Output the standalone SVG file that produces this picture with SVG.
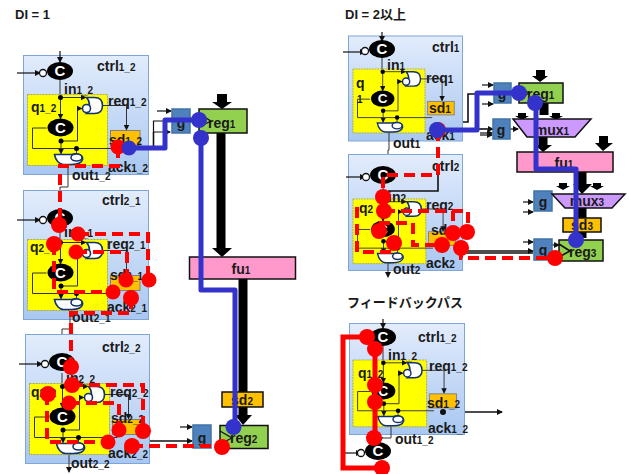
<svg xmlns="http://www.w3.org/2000/svg" xmlns:xlink="http://www.w3.org/1999/xlink" width="629" height="474" viewBox="0 0 629 474">
<style>
text{font-family:"Liberation Sans","Noto Sans CJK JP",sans-serif;font-size:14px;font-weight:bold;fill:#1a1a1a}
.s{font-size:10px}
.t{font-size:13px}
.m{text-anchor:middle}
.box{fill:url(#bg);stroke:#7fa6d8;stroke-width:1}
.y{fill:#ffff00;stroke:#8a8a50;stroke-width:.7;stroke-dasharray:2 1}
.sd{fill:#ffc000;stroke:#7f7f7f;stroke-width:1}
.sdb{fill:#ffc000;stroke:#111;stroke-width:1.5}
.reg{fill:#92d050;stroke:#111;stroke-width:1.5}
.fu{fill:#ff99cc;stroke:#111;stroke-width:1.5}
.mux{fill:#cc99ff;stroke:#111;stroke-width:1.5}
.g{fill:#4f81bd;stroke:#3f73a8;stroke-width:1.5}
.w{fill:none;stroke:#333;stroke-width:1}
.k{fill:none;stroke:#111;stroke-width:1.2}
.kk{fill:none;stroke:#111;stroke-width:1.6}
.bus{fill:none;stroke:#000;stroke-width:9}
.gate{fill:#fff;stroke:#14336e;stroke-width:1.6}
.blue{fill:none;stroke:#3333cc;stroke-width:5;stroke-linejoin:round}
.bd{fill:#3333cc}
.rd{fill:none;stroke:#ff0000;stroke-width:4;stroke-dasharray:11 6}
.rs{fill:none;stroke:#ff0000;stroke-width:5}
.rc{fill:#ff0000}
.ctext{font-size:15px;fill:#fff;text-anchor:middle}
</style>
<defs>
<linearGradient id="bg" x1="0" y1="0" x2="0" y2="1"><stop offset="0" stop-color="#e2ecfc"/><stop offset="1" stop-color="#a9c7f1"/></linearGradient>
<marker id="a" markerWidth="6" markerHeight="6" refX="5" refY="3" orient="auto" markerUnits="userSpaceOnUse"><path d="M0,0L6,3L0,6Z" fill="#111"/></marker>
<g id="core">
<rect class="y" x="0" y="0" width="80" height="71"/>
<rect class="sd" x="83" y="36" width="29.500" height="15"/>
<path class="w" d="M33,3V24" marker-end="url(#a)"/>
<path class="w" d="M33,3H58" marker-end="url(#a)"/>
<path class="w" d="M33.500,46.500H50V14H54" marker-end="url(#a)"/>
<path class="w" d="M33.500,46.500V59" marker-end="url(#a)"/>
<path class="w" d="M19,33.500H5V54H88"/>
<path class="w" d="M49,54V62"/>
<path class="w" d="M74,11H99V35" marker-end="url(#a)"/>
<path class="gate" d="M59,3H67C73,3 75,7 75,11C75,16 72,19 67,19H59C63,15 63,7 59,3Z"/>
<circle class="gate" cx="59" cy="14" r="4"/>
<ellipse cx="33" cy="33" rx="13" ry="9"/>
<text class="ctext" x="33" y="38">C</text>
<circle cx="33" cy="3" r="2.500"/><circle cx="33.500" cy="46.500" r="2.500"/><circle cx="49" cy="54" r="2.500"/>
<path class="gate" d="M27,60H44C50,58 56,61 55,65C54,69 48,70 44,70H36C32,70 28,66 27,60Z"/>
<ellipse class="gate" cx="49" cy="63" rx="5.500" ry="3.500"/>
<path class="w" d="M41,70V71"/>
</g>
<g id="topc">
<ellipse cx="0" cy="0" rx="13" ry="9"/>
<text class="ctext" x="0" y="5">C</text>
<circle cx="-17" cy="2" r="3.500" fill="#fff" stroke="#111" stroke-width="1.300"/>
</g>
</defs>

<g id="titles">
<text class="t" x="15" y="19">DI = 1</text>
<text class="t" x="345" y="19">DI = 2以上</text>
<text class="t" x="347" y="307">フィードバックパス</text>
</g>

<g id="connectors">
<path class="bus" d="M221,133V252"/>
<path d="M217,94H227V102H232L222,109L212,102H217Z"/>
<path d="M212,248H232L222,257Z"/>
<path class="bus" d="M243,279V418"/>
<path d="M235,415H252L243,425Z"/>
<path class="k" d="M157,111H171" marker-end="url(#a)"/>
<path class="k" d="M165,121H153.500V132H170" marker-end="url(#a)"/>
<path class="kk" d="M153.500,132V148H165"/>
<path class="k" d="M180,427H192" marker-end="url(#a)"/>
<path class="kk" d="M132,441H192" marker-end="url(#a)"/>
<path d="M536,70H545V76H548L540,82L532,76H536Z"/>
<path class="bus" d="M544,103V115"/>
<path d="M518,113H526V116H529L522,120L515,116H518Z"/>
<path d="M552,113H560V116H563L556,120L549,116H552Z"/>
<path class="bus" d="M543,137V146"/>
<path d="M535,145H552L543,152Z"/>
<path d="M599,136H608V143H613L603,151L595,143H599Z"/>
<path class="bus" d="M582,172V186"/>
<path d="M573,184H592L582,194Z"/>
<path d="M559,183H567V186H570L563,190L556,186H559Z"/>
<path d="M593,183H601V186H604L597,190L590,186H593Z"/>
<path class="bus" d="M582,208V220"/>
<path class="bus" d="M582,232V238"/>
<path class="k" d="M482,85H493" marker-end="url(#a)"/>
<path class="k" d="M482,104H493" marker-end="url(#a)"/>
<path class="kk" d="M437,122H468V94H494"/>
<path class="kk" d="M477,129H493" marker-end="url(#a)"/>
<path class="k" d="M480,133H492" marker-end="url(#a)"/>
<path class="k" d="M480,135H492" marker-end="url(#a)"/>
<path class="k" d="M510,129H518" marker-end="url(#a)"/>
<path class="k" d="M523,202H533" marker-end="url(#a)"/>
<path class="k" d="M523,212H533" marker-end="url(#a)"/>
<path class="k" d="M523,242H533" marker-end="url(#a)"/>
<path class="kk" d="M436,251H533" marker-end="url(#a)"/>
<path class="kk" d="M463,253H533"/>
<path class="k" d="M552,245H559" marker-end="url(#a)"/>
<path class="kk" d="M443,412H502" marker-end="url(#a)"/>
</g>

<g id="ctrl1_2">
<rect class="box" x="23.500" y="55.500" width="125" height="119"/>
<path class="k" d="M60,51V62" marker-end="url(#a)"/><path class="k" d="M17,73H40" marker-end="url(#a)"/>
<path class="w" d="M60,80V95"/>
<use xlink:href="#topc" href="#topc" x="60" y="71"/>
<use xlink:href="#core" href="#core" x="27.500" y="94.500"/>
<text x="97" y="71">ctrl<tspan class="s">1_2</tspan></text>
<text x="64" y="94">in<tspan class="s">1_2</tspan></text>
<text x="31" y="112">q<tspan class="s">1_2</tspan></text>
<text x="108" y="106">req<tspan class="s">1_2</tspan></text>
<text x="109" y="145">sd<tspan class="s">1_2</tspan></text>
<text x="108" y="172">ack<tspan class="s">1_2</tspan></text>
<text x="72" y="180">out<tspan class="s">1_2</tspan></text>
<path class="w" d="M68,165V187H60V207" marker-end="url(#a)"/>
</g>

<g id="ctrl2_1">
<rect class="box" x="23.500" y="190.500" width="125" height="129"/>
<path class="k" d="M17,220H40" marker-end="url(#a)"/>
<path class="w" d="M60,229V240"/>
<use xlink:href="#topc" href="#topc" x="60" y="218"/>
<use xlink:href="#core" href="#core" x="27.500" y="239.500"/>
<text x="102" y="205">ctrl<tspan class="s">2_1</tspan></text>
<text x="64" y="237">in<tspan class="s">2_1</tspan></text>
<text x="30" y="252">q<tspan class="s">2_1</tspan></text>
<text x="107" y="249">req<tspan class="s">2_1</tspan></text>
<text x="110" y="280">sd<tspan class="s">2_1</tspan></text>
<text x="107" y="312">ack<tspan class="s">2_1</tspan></text>
<text x="72" y="322">out<tspan class="s">2_1</tspan></text>
<path class="w" d="M70,311V329H62V352" marker-end="url(#a)"/>
</g>

<g id="ctrl2_2">
<rect class="box" x="25.500" y="334.500" width="124" height="129"/>
<path class="k" d="M19,364H42" marker-end="url(#a)"/>
<path class="w" d="M62,373V384"/>
<use xlink:href="#topc" href="#topc" x="62" y="362"/>
<use xlink:href="#core" href="#core" x="29.500" y="383.500"/>
<text x="102" y="352">ctrl<tspan class="s">2_2</tspan></text>
<text x="66" y="383">in<tspan class="s">2_2</tspan></text>
<text x="31" y="397">q<tspan class="s">2_2</tspan></text>
<text x="110" y="397">req<tspan class="s">2_2</tspan></text>
<text x="111" y="423">sd<tspan class="s">2_2</tspan></text>
<text x="108" y="458">ack<tspan class="s">2_2</tspan></text>
<text x="71" y="468">out<tspan class="s">2_2</tspan></text>
<path class="w" d="M69,455V472" marker-end="url(#a)"/>
</g>

<g id="ctrl1">
<rect class="box" x="348.500" y="36" width="114" height="105"/>
<path class="k" d="M382,32V41" marker-end="url(#a)"/><path class="k" d="M343,52H365" marker-end="url(#a)"/>
<path class="w" d="M382,58V70"/>
<use xlink:href="#topc" href="#topc" x="382" y="49"/>
<use xlink:href="#core" href="#core" transform="translate(353,69) scale(.9)"/>
<text x="432" y="52">ctrl<tspan class="s">1</tspan></text>
<text x="387" y="70">in<tspan class="s">1</tspan></text>
<text x="356" y="88">q</text>
<text class="s" x="357" y="103">1</text>
<text x="426" y="83">req<tspan class="s">1</tspan></text>
<text x="429" y="113">sd<tspan class="s">1</tspan></text>
<text x="426" y="140">ack<tspan class="s">1</tspan></text>
<text x="393" y="148">out<tspan class="s">1</tspan></text>
<path class="w" d="M389,133V150H388V157H387V163" marker-end="url(#a)"/>
</g>

<g id="ctrl2">
<rect class="box" x="348.500" y="154.500" width="114" height="116"/>
<path class="k" d="M346,177H365" marker-end="url(#a)"/>
<path class="w" d="M383,184V199"/>
<path class="kk" d="M438,175V191H388"/>
<use xlink:href="#topc" href="#topc" x="383" y="175"/>
<use xlink:href="#core" href="#core" transform="translate(353,199) scale(.91)"/>
<text x="432" y="171">ctrl<tspan class="s">2</tspan></text>
<text x="388" y="202">in<tspan class="s">2</tspan></text>
<text x="359" y="213">q<tspan class="s">2</tspan></text>
<text x="426" y="210">req<tspan class="s">2</tspan></text>
<text x="431" y="235">sd<tspan class="s">2</tspan></text>
<text x="426" y="268">ack<tspan class="s">2</tspan></text>
<text x="393" y="274">out<tspan class="s">2</tspan></text>
<path class="w" d="M388,262V277" marker-end="url(#a)"/>
</g>

<g id="ctrl1_2_fb">
<rect class="box" x="349.500" y="323.500" width="115" height="111"/>
<path class="k" d="M383,319V328" marker-end="url(#a)"/>
<path class="w" d="M383,346V361"/>
<use xlink:href="#topc" href="#topc" x="383" y="337"/>
<use xlink:href="#core" href="#core" transform="translate(353,360) scale(.92,.94)"/>
<text x="418" y="342">ctrl<tspan class="s">1_2</tspan></text>
<text x="388" y="360">in<tspan class="s">1_2</tspan></text>
<text x="358" y="378">q<tspan class="s">1_2</tspan></text>
<text x="429" y="371">req<tspan class="s">1_2</tspan></text>
<text x="427" y="408">sd<tspan class="s">1_2</tspan></text>
<text x="428" y="433">ack<tspan class="s">1_2</tspan></text>
<text x="395" y="444">out<tspan class="s">1_2</tspan></text>
<path class="w" d="M391,427V438H380V442" marker-end="url(#a)"/>
</g>
<g id="ctrl_fb_next">
<path class="k" d="M343,453H361" marker-end="url(#a)"/>
<use xlink:href="#topc" href="#topc" x="378" y="451"/>
</g>
<circle cx="443" cy="412" r="3" fill="#111"/>

<g id="g1"><rect class="g" x="172" y="109" width="18" height="24"/><text class="m" x="181" y="128">g</text></g>
<g id="reg1"><rect class="reg" x="199" y="109" width="48" height="24"/><path class="k" d="M199,114L211,121L199,127"/><text x="208" y="128">reg<tspan class="s">1</tspan></text></g>
<g id="fu1"><rect class="fu" x="189.500" y="257" width="106" height="22"/><text class="m" x="241" y="274">fu<tspan class="s">1</tspan></text></g>
<g id="sd2"><rect class="sdb" x="222" y="392" width="41" height="15"/><text class="m" x="242" y="405">sd<tspan class="s">2</tspan></text></g>
<g id="g2"><rect class="g" x="193" y="425" width="18" height="23"/><text class="m" x="202" y="443">g</text></g>
<g id="reg2"><rect class="reg" x="220" y="425.500" width="48" height="23"/><path class="k" d="M220,431L232,438L220,444"/><text x="230" y="443">reg<tspan class="s">2</tspan></text></g>

<g id="g3"><rect class="g" x="494" y="83" width="17" height="20"/><text class="m" x="502" y="99">g</text></g>
<g id="r_reg1"><rect class="reg" x="519" y="83" width="44" height="20"/><path class="k" d="M519,87L529,93L519,99"/><text x="527" y="99">reg<tspan class="s">1</tspan></text></g>
<g id="g4"><rect class="g" x="493" y="119" width="17" height="20"/><text class="m" x="501" y="135">g</text></g>
<g id="mux1"><path class="mux" d="M513,119H591L575,137H527Z"/><text class="m" x="552" y="135">mux<tspan class="s">1</tspan></text></g>
<g id="r_fu1"><rect class="fu" x="517" y="152" width="96" height="20"/><text class="m" x="564" y="168">fu<tspan class="s">1</tspan></text></g>
<g id="g5"><rect class="g" x="534" y="191" width="18" height="20"/><text class="m" x="543" y="207">g</text></g>
<g id="mux3"><path class="mux" d="M552,194H625L612,208H565Z"/><text class="m" x="587" y="206">mux<tspan class="s">3</tspan></text></g>
<g id="sd3"><rect class="sdb" x="563" y="218" width="38" height="14"/><text class="m" x="582" y="230">sd<tspan class="s">3</tspan></text></g>
<g id="g6"><rect class="g" x="534" y="239" width="18" height="21"/><text class="m" x="543" y="255">g</text></g>
<g id="reg3"><rect class="reg" x="559" y="240" width="44" height="21"/><path class="kk" d="M559,244L570,251L559,257"/><text x="569" y="257">reg<tspan class="s">3</tspan></text></g>

<g id="highlight-paths">
<path class="rd" d="M118,147V166H60V225"/>
<path class="rd" d="M78,234H148V280"/>
<path class="rd" d="M54,244V292H113"/>
<path class="rd" d="M76,252H127V280"/>
<path class="rd" d="M131,298V313H71V367"/>
<path class="rd" d="M72,385H143V431"/>
<path class="rd" d="M47,394V442H108"/>
<path class="rd" d="M69,403H119V430"/>
<path class="rd" d="M132,446H222"/>
<path class="rd" d="M438,130V175H383V197"/>
<path class="rd" d="M384,211H468V232"/>
<path class="rd" d="M384,211H453V233"/>
<path class="rd" d="M379,223H413V245H442"/>
<path class="rd" d="M357,207V252H393"/>
<path class="rd" d="M461,248V258H555"/>
<g class="rc">
<circle cx="118" cy="147" r="7.500"/><circle cx="59" cy="225" r="8"/><circle cx="78" cy="234" r="7.500"/><circle cx="149" cy="280" r="7.500"/><circle cx="54" cy="244" r="8"/><circle cx="113" cy="292" r="7.500"/><circle cx="76" cy="252" r="7.500"/><circle cx="126" cy="280" r="7.500"/><circle cx="131" cy="298" r="8"/><circle cx="71" cy="367" r="8"/><circle cx="72" cy="385" r="8"/><circle cx="143" cy="431" r="8"/><circle cx="48" cy="394" r="8"/><circle cx="108" cy="442" r="7.500"/><circle cx="69" cy="403" r="7.500"/><circle cx="119" cy="430" r="7.500"/><circle cx="132" cy="446" r="8"/><circle cx="222" cy="447" r="8"/>
<circle cx="438" cy="130" r="8"/><circle cx="383" cy="197" r="8"/><circle cx="384" cy="211" r="8"/><circle cx="467" cy="232" r="8"/><circle cx="453" cy="233" r="8"/><circle cx="379" cy="231" r="8"/><circle cx="442" cy="245" r="8"/><circle cx="394" cy="243" r="8"/><circle cx="461" cy="248" r="8"/><circle cx="555" cy="258" r="8"/>
</g>
<path class="blue" d="M129,148H165V120H199"/>
<path class="blue" d="M201,138V290H235V427"/>
<path class="blue" d="M437,130H477V93H519"/>
<path class="blue" d="M536,103V169H576V240"/>
<g class="bd">
<circle cx="129" cy="148" r="7.500"/><circle cx="199" cy="120" r="8"/><circle cx="201" cy="138" r="8"/><circle cx="233.500" cy="427" r="8"/>
<circle cx="437" cy="130" r="8"/><circle cx="519" cy="93" r="8"/><circle cx="535" cy="103" r="8"/><circle cx="576" cy="240" r="8"/>
</g>
<path class="rs" d="M367,337H343V468H382"/>
<path class="rs" d="M375,349V438"/>
<g class="rc">
<circle cx="367" cy="337" r="8"/><circle cx="375" cy="349" r="8"/><circle cx="375" cy="385" r="8"/><circle cx="375" cy="402" r="8"/><circle cx="374" cy="438" r="8"/><circle cx="382" cy="468" r="8"/>
</g>
</g>
</svg>
